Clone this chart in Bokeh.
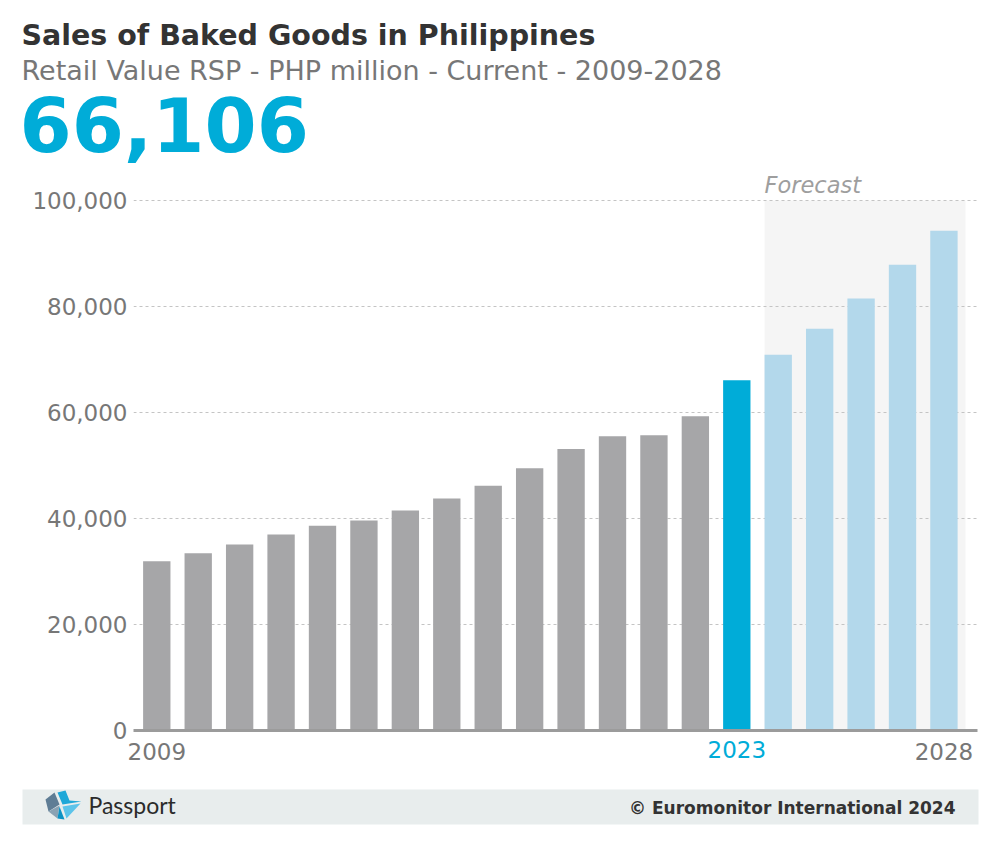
from bokeh.plotting import figure
from bokeh.layouts import column
from bokeh.models import Range1d, FixedTicker, NumeralTickFormatter, ColumnDataSource, LinearAxis
from bokeh.core.properties import value
from bokeh.embed import file_html
from bokeh.resources import INLINE

# ---------------- data ----------------
years = list(range(2009, 2029))
sales = [31950, 33450, 35100, 36980, 38620, 39620, 41510, 43770, 46200, 49500,
         53100, 55500, 55700, 59300, 66106, 70900, 75800, 81500, 87900, 94300]
current_year = 2023
forecast_start = 2024
y_ticks = [0, 20000, 40000, 60000, 80000, 100000]
x_tick_years = [2009, 2028]

title_text = "Sales of Baked Goods in Philippines"
subtitle_text = "Retail Value RSP - PHP million - Current - 2009-2028"
footer_brand = "Passport"
footer_copy = "\u00a9 Euromonitor International 2024"

# ---------------- style ----------------
GRAY = "#a6a6a8"
BLUE = "#00acd8"
LIGHT = "#b3d8eb"
SHADE = "#f5f5f5"
TXT_DARK = "#333333"
TXT_GRAY = "#777777"
FONT = "DejaVu Sans"
W = 1000
BAR_W = 0.66
LBL_H = 18  # pull-up for the second (gray) x-axis label row

colors = [BLUE if y == current_year else (LIGHT if y >= forecast_start else GRAY) for y in years]
src = ColumnDataSource(dict(x=years, top=sales, color=colors))

# ---------------- header ----------------
h = figure(width=W, height=172, x_range=Range1d(0, W), y_range=Range1d(172, 0),
           output_backend="svg", toolbar_location=None, min_border=0, frame_align=False)
h.axis.visible = False
h.grid.visible = False
h.outline_line_color = None
h.text(x=[21], y=[35], text=[title_text], text_font=value(FONT), text_font_style="bold",
       text_font_size="28.5px", text_color=TXT_DARK, text_baseline="alphabetic")
h.text(x=[21], y=[70], text=[subtitle_text], text_font=value(FONT),
       text_font_size="27px", text_color=TXT_GRAY, text_baseline="alphabetic")
cur_val = sales[years.index(current_year)]
h.text(x=[19], y=[124], text=[f"{cur_val:,}"], text_font=value(FONT), text_font_style="bold",
       text_font_size="75px", text_color=BLUE, text_baseline="alphabetic")

# ---------------- chart ----------------
p = figure(width=W, height=598, x_range=Range1d(2008.438, 2028.81), y_range=Range1d(0, 105283),
           output_backend="svg", toolbar_location=None, frame_align=False,
           min_border_left=133, min_border_right=23, min_border_top=0, min_border_bottom=40)
p.outline_line_color = None
p.background_fill_color = "white"

p.quad(left=[forecast_start - BAR_W / 2], right=[years[-1] + 0.52], bottom=[0], top=[y_ticks[-1]],
       fill_color=SHADE, line_color=None, level="image")
p.vbar(x="x", top="top", width=BAR_W, bottom=0, fill_color="color", line_color=None, source=src)
p.text(x=[forecast_start - BAR_W / 2], y=[y_ticks[-1]], text=["Forecast"], text_font=value(FONT),
       text_font_style="italic", text_font_size="22.5px", text_color="#9e9e9e",
       text_baseline="alphabetic", y_offset=-15)

p.xgrid.visible = False
p.ygrid.ticker = FixedTicker(ticks=y_ticks)
p.ygrid.grid_line_dash = "3 3"
p.ygrid.grid_line_color = "#c4c4c4"

p.yaxis.ticker = FixedTicker(ticks=y_ticks)
p.yaxis.formatter = NumeralTickFormatter(format="0,0")
p.yaxis.axis_line_color = None
p.yaxis.major_tick_line_color = None
p.yaxis.minor_tick_line_color = None
p.yaxis.major_tick_out = 0
p.yaxis.major_tick_in = 0
p.yaxis.major_label_standoff = 6
p.yaxis.major_label_text_font = FONT
p.yaxis.major_label_text_font_size = "23px"
p.yaxis.major_label_text_color = TXT_GRAY

# nearest axis: the baseline plus the highlighted current year
xa = p.xaxis[0]
xa.ticker = FixedTicker(ticks=[current_year])
xa.axis_line_color = "#9b9b9b"
xa.axis_line_width = 3
xa.major_tick_line_color = None
xa.minor_tick_line_color = None
xa.major_tick_out = 0
xa.major_tick_in = 0
xa.major_label_standoff = 10
xa.major_label_text_font = FONT
xa.major_label_text_font_size = "23px"
xa.major_label_text_color = BLUE

# second axis: first and last year labels in gray, pulled up to the same line
xb = LinearAxis(ticker=FixedTicker(ticks=x_tick_years))
xb.axis_line_color = None
xb.major_tick_line_color = None
xb.minor_tick_line_color = None
xb.major_tick_out = 0
xb.major_tick_in = 0
xb.major_label_standoff = -LBL_H
xb.major_label_text_font = FONT
xb.major_label_text_font_size = "23px"
xb.major_label_text_color = TXT_GRAY
p.add_layout(xb, "below")

# ---------------- footer ----------------
f = figure(width=W, height=79, x_range=Range1d(0, W), y_range=Range1d(79, 0),
           output_backend="svg", toolbar_location=None, min_border=0, frame_align=False)
f.axis.visible = False
f.grid.visible = False
f.outline_line_color = None
f.quad(left=[22], right=[978], top=[19], bottom=[54], fill_color="#e8eded", line_color=None)
logo_xs = [[45, 54, 59, 48], [48, 59, 57], [57, 65, 69, 81, 62], [62, 80, 66], [59, 64, 57]]
logo_ys = [[29, 22, 34, 41], [41, 35, 48], [22, 20, 30, 31, 34], [36, 33, 48], [36, 49, 48]]
logo_cs = ["#5f7d95", "#8aa2b3", "#1fa8d8", "#5cc4ea", "#0d93c4"]
f.patches(xs=logo_xs, ys=logo_ys, fill_color=logo_cs, line_color=None)
f.text(x=[88], y=[34], text=[footer_brand], text_font=value("Lato"), text_font_size="23px",
       text_color="#2b2b2b", text_baseline="alphabetic")
f.text(x=[955], y=[37], text=[footer_copy], text_font=value(FONT), text_font_style="bold",
       text_font_size="17px", text_color=TXT_DARK, text_align="right", text_baseline="alphabetic")

layout = column(h, p, f, spacing=0)
open("out.html", "w").write(file_html(layout, INLINE))
